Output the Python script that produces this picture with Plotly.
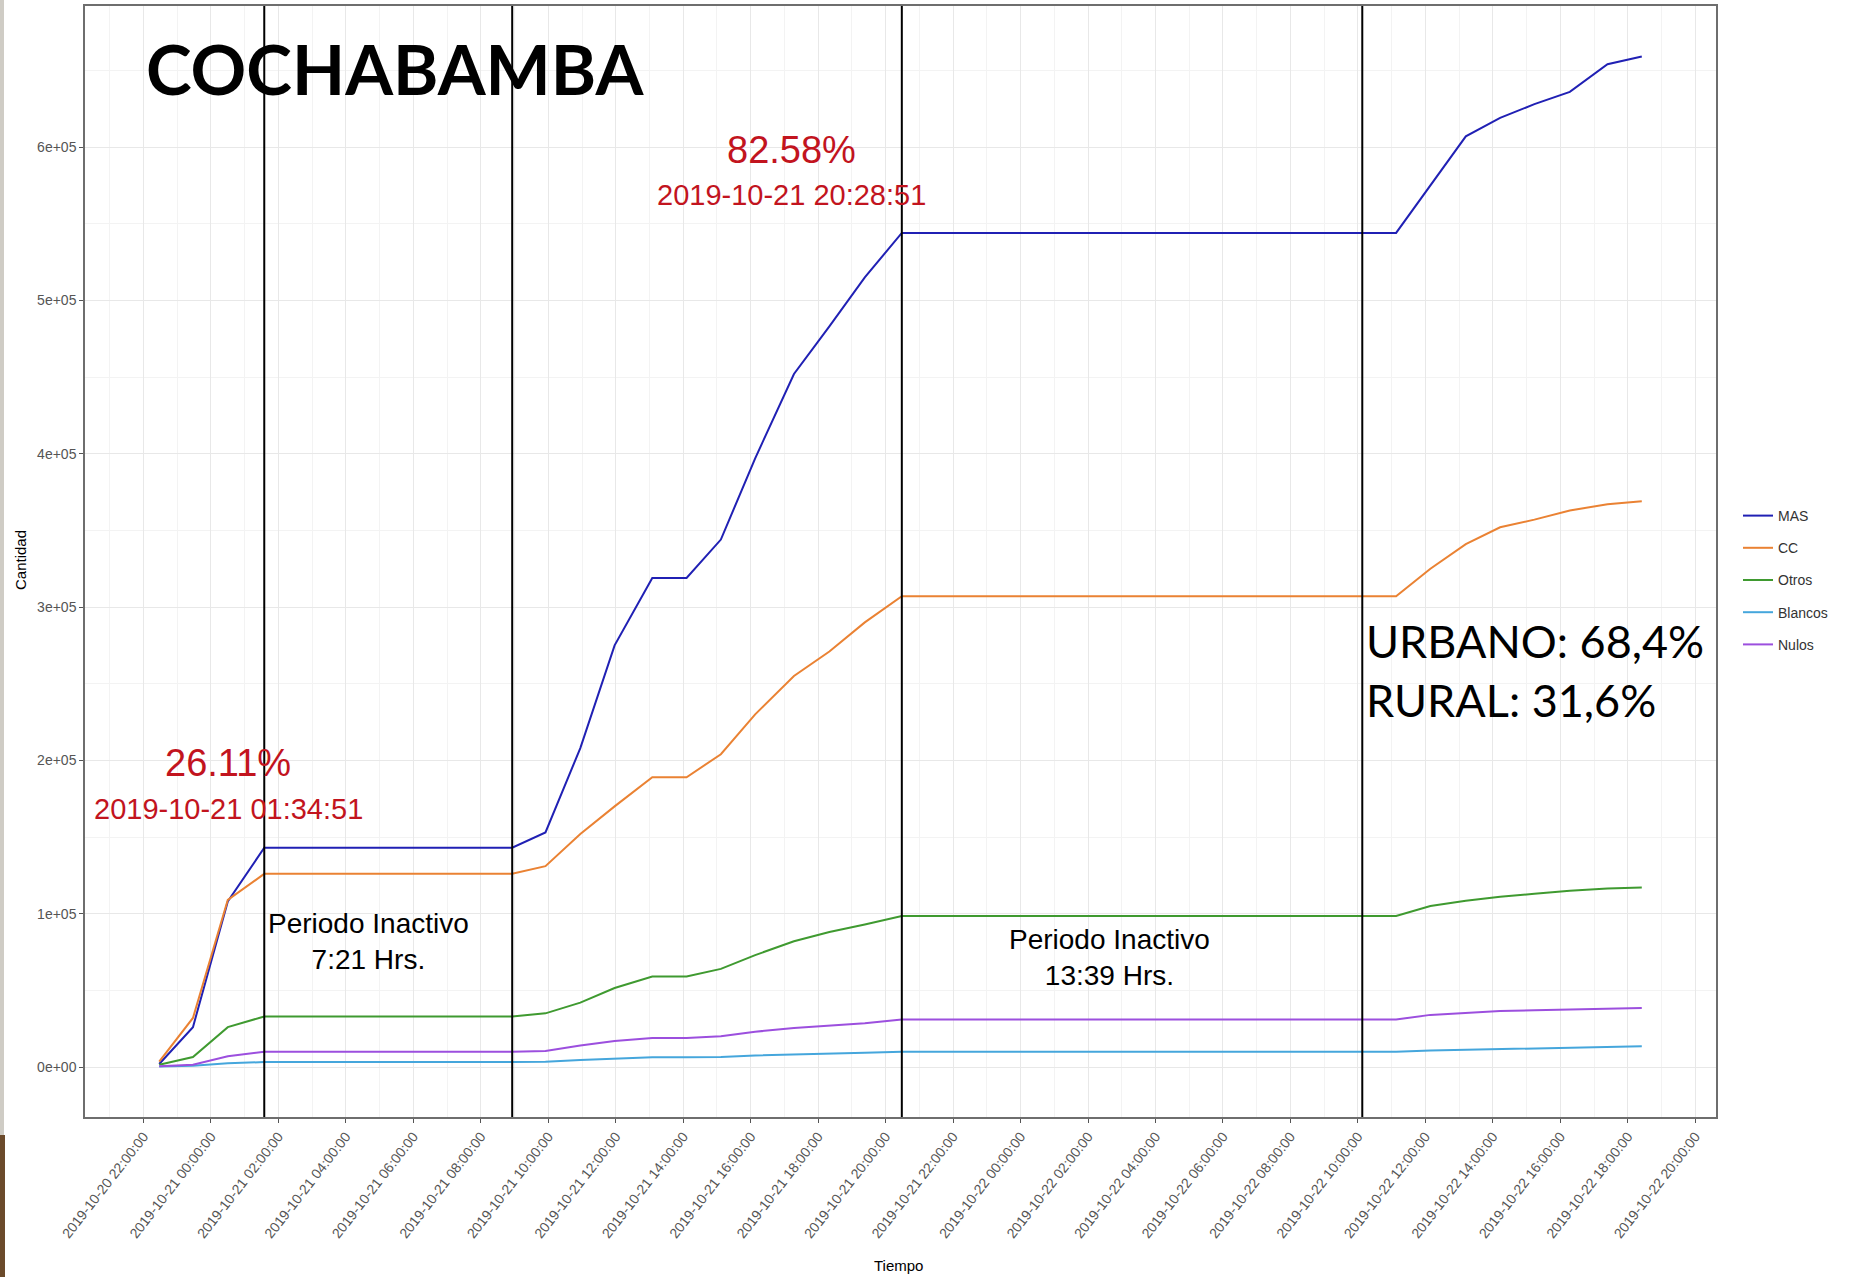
import plotly.graph_objects as go

# ---------------- data ----------------
tiempos = ["2019-10-20 22:28", "2019-10-20 23:28", "2019-10-21 00:30", "2019-10-21 01:34:51",
           "2019-10-21 08:55:51", "2019-10-21 09:55", "2019-10-21 10:57", "2019-10-21 11:58",
           "2019-10-21 13:05", "2019-10-21 14:06", "2019-10-21 15:07", "2019-10-21 16:08",
           "2019-10-21 17:17", "2019-10-21 18:20", "2019-10-21 19:23", "2019-10-21 20:28:51",
           "2019-10-22 11:08", "2019-10-22 12:09", "2019-10-22 13:12", "2019-10-22 14:13",
           "2019-10-22 15:14", "2019-10-22 16:17", "2019-10-22 17:24", "2019-10-22 18:25"]

mas = [2000, 26000, 108000, 143000, 143000, 153000, 208000, 275000, 319000, 319000, 344000, 397000,
       452000, 483000, 515000, 544000, 544000, 575000, 607000, 619000, 628000, 636000, 654000, 659000]
cc = [3500, 32000, 109000, 126000, 126000, 131000, 152000, 170000, 189000, 189000, 204000, 230000,
      255000, 271000, 290000, 307000, 307000, 325000, 341000, 352000, 357000, 363000, 367000, 369000]
otros = [1500, 6500, 26000, 33000, 33000, 35000, 42000, 51500, 59000, 59000, 64000, 73000,
         82000, 88000, 93000, 98500, 98500, 105000, 108500, 111000, 113000, 115000, 116500, 117000]
blancos = [300, 800, 2500, 3200, 3200, 3400, 4500, 5500, 6300, 6300, 6600, 7500,
           8300, 8800, 9300, 10000, 10000, 10800, 11300, 11800, 12300, 12700, 13100, 13500]
nulos = [500, 1500, 7000, 10000, 10000, 10500, 14000, 17000, 19000, 19000, 20000, 23000,
         25500, 27000, 28500, 31000, 31000, 34000, 35500, 36500, 37000, 37500, 38000, 38500]

series_nombres = ["MAS", "CC", "Otros", "Blancos", "Nulos"]
series_valores = [mas, cc, otros, blancos, nulos]
series_colores = ["#2020B4", "#EA8233", "#3F9A30", "#45A6DC", "#9C4FDE"]

cortes = ["2019-10-21 01:34:51", "2019-10-21 08:55:51", "2019-10-21 20:28:51", "2019-10-22 10:07:51"]

y_tickvals = [0, 100000, 200000, 300000, 400000, 500000, 600000]
y_ticktext = ["0e+00", "1e+05", "2e+05", "3e+05", "4e+05", "5e+05", "6e+05"]

# ---------------- geometry helpers ----------------
W, H = 1849, 1277
L, R, T, B = 85, 1716, 6, 1117
PW, PH = R - L, B - T


def px(x):
    return (x - L) / PW


def py(y):
    return (B - y) / PH


fig = go.Figure()
for nombre, vals, col in zip(series_nombres, series_valores, series_colores):
    fig.add_trace(go.Scatter(x=tiempos, y=vals, mode="lines", name=nombre,
                             legendgroup=nombre,
                             line=dict(color=col, width=2)))

for c in cortes:
    fig.add_shape(type="line", xref="x", yref="paper", x0=c, x1=c, y0=0, y1=1,
                  line=dict(color="black", width=2))

# slide edge artifacts on the left
fig.add_shape(type="rect", xref="paper", yref="paper", x0=px(0), x1=px(4), y0=py(H), y1=py(0),
              fillcolor="#CFCCC5", line=dict(width=0), layer="below")
fig.add_shape(type="rect", xref="paper", yref="paper", x0=px(0), x1=px(5), y0=py(H), y1=py(1135),
              fillcolor="#6B4A2B", line=dict(width=0), layer="below")

red = "#C2141E"
ann = [
    dict(text="<b>COCHABAMBA</b>", x=px(395), y=py(68), font=dict(family="Lato", size=69, color="black")),
    dict(text="82.58%", x=px(791), y=py(150), font=dict(family="Liberation Sans", size=38, color=red)),
    dict(text="2019-10-21 20:28:51", x=px(791), y=py(195), font=dict(family="Liberation Sans", size=29, color=red)),
    dict(text="26.11%", x=px(228), y=py(763), font=dict(family="Liberation Sans", size=38, color=red)),
    dict(text="2019-10-21 01:34:51", x=px(228), y=py(809), font=dict(family="Liberation Sans", size=29, color=red)),
    dict(text="Periodo Inactivo<br>7:21 Hrs.", x=px(368), y=py(941),
         font=dict(family="Liberation Sans", size=28, color="black")),
    dict(text="Periodo Inactivo<br>13:39 Hrs.", x=px(1109), y=py(957),
         font=dict(family="Liberation Sans", size=28, color="black")),
    dict(text="Cantidad", x=px(20), y=py(560), textangle=-90,
         font=dict(family="Liberation Sans", size=15, color="black")),
    dict(text="Tiempo", x=px(898), y=py(1265),
         font=dict(family="Liberation Sans", size=15, color="black")),
]
for a in ann:
    fig.add_annotation(xref="paper", yref="paper", showarrow=False, xanchor="center", yanchor="middle", **a)

fig.add_annotation(xref="paper", yref="paper", showarrow=False, xanchor="left", yanchor="middle",
                   align="left", x=px(1364), y=py(670),
                   text="URBANO: 68,4%<br>RURAL: 31,6%",
                   font=dict(family="Lato", size=45, color="black"))

fig.update_layout(
    width=W, height=H,
    margin=dict(l=L, r=W - R, t=T, b=H - B, autoexpand=False),
    paper_bgcolor="white", plot_bgcolor="white",
    showlegend=True,
    legend=dict(x=px(1738), y=py(500), xanchor="left", yanchor="top",
                font=dict(family="Liberation Sans", size=14, color="#333333"),
                itemwidth=30, tracegroupgap=11, bgcolor="rgba(0,0,0,0)"),
    xaxis=dict(type="date", range=["2019-10-20 20:16", "2019-10-22 20:37"],
               tick0="2019-10-20 22:00:00", dtick=2 * 3600 * 1000,
               tickformat="%Y-%m-%d %H:%M:%S", tickangle=-52, automargin=False,
               tickfont=dict(family="Liberation Sans", size=14, color="#555555"),
               ticks="outside", ticklen=4, tickcolor="#555555",
               showgrid=True, gridcolor="#E8E8E8", gridwidth=1,
               minor=dict(dtick=3600 * 1000, tick0="2019-10-20 21:00:00", showgrid=True,
                          gridcolor="#F3F3F3", gridwidth=1),
               showline=True, mirror=True, linecolor="#6E6E6E", linewidth=1.5,
               zeroline=False),
    yaxis=dict(range=[-32600, 692000], tickvals=y_tickvals, ticktext=y_ticktext, automargin=False,
               tickfont=dict(family="Liberation Sans", size=14, color="#555555"),
               ticks="outside", ticklen=4, tickcolor="#555555",
               showgrid=True, gridcolor="#E8E8E8", gridwidth=1,
               minor=dict(dtick=50000, tick0=0, showgrid=True, gridcolor="#F3F3F3", gridwidth=1),
               showline=True, mirror=True, linecolor="#6E6E6E", linewidth=1.5,
               zeroline=False),
)

fig.write_html("out.html", config={"displayModeBar": False},
               post_script="document.body.style.margin='0';document.body.style.overflow='hidden';")
